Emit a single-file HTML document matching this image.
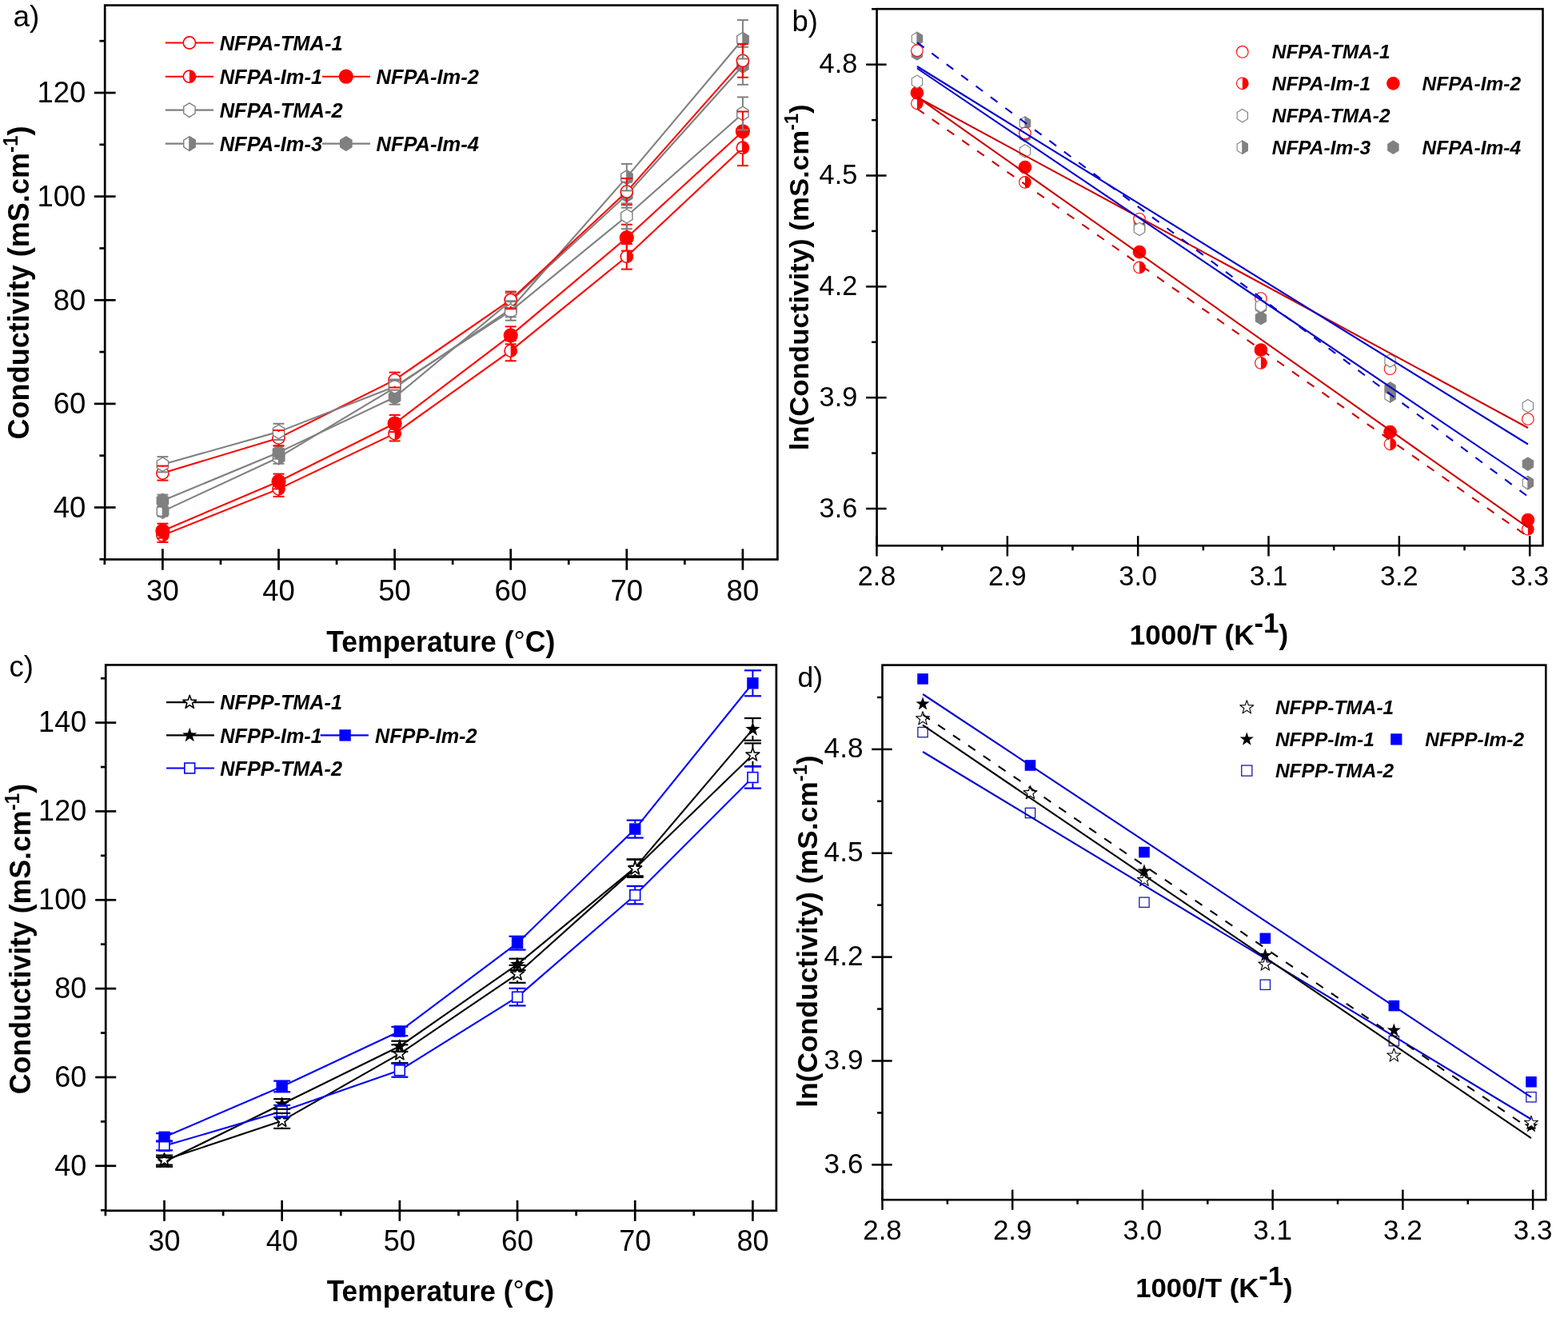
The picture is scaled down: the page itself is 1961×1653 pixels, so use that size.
<!DOCTYPE html>
<html><head><meta charset="utf-8"><title>Conductivity plots</title>
<style>html,body{margin:0;padding:0;background:#fff;overflow:hidden;}svg{display:block;}text{font-family:'Liberation Sans', Arial, Helvetica, sans-serif;fill:#000;}</style>
</head><body>
<svg width="1961" height="1653" viewBox="0 0 1961 1653">
<rect width="1961" height="1653" fill="#fff"/>
<g><polyline points="203.4,669.37 348.5,611.36 493.6,542.15 638.7,438.64 783.8,320.82 928.9,184.72" fill="none" stroke="#ff0000" stroke-width="2.1" stroke-linejoin="round"/><circle cx="203.4" cy="669.37" r="7.6" fill="#fff" stroke="#ff0000" stroke-width="1.6"/><path d="M203.4 661.77 A7.6 7.6 0 0 1 203.4 676.97 Z" fill="#ff0000"/><circle cx="348.5" cy="611.36" r="7.6" fill="#fff" stroke="#ff0000" stroke-width="1.6"/><path d="M348.5 603.76 A7.6 7.6 0 0 1 348.5 618.96 Z" fill="#ff0000"/><circle cx="493.6" cy="542.15" r="7.6" fill="#fff" stroke="#ff0000" stroke-width="1.6"/><path d="M493.6 534.55 A7.6 7.6 0 0 1 493.6 549.75 Z" fill="#ff0000"/><circle cx="638.7" cy="438.64" r="7.6" fill="#fff" stroke="#ff0000" stroke-width="1.6"/><path d="M638.7 431.04 A7.6 7.6 0 0 1 638.7 446.24 Z" fill="#ff0000"/><circle cx="783.8" cy="320.82" r="7.6" fill="#fff" stroke="#ff0000" stroke-width="1.6"/><path d="M783.8 313.22 A7.6 7.6 0 0 1 783.8 328.42 Z" fill="#ff0000"/><circle cx="928.9" cy="184.72" r="7.6" fill="#fff" stroke="#ff0000" stroke-width="1.6"/><path d="M928.9 177.12 A7.6 7.6 0 0 1 928.9 192.32 Z" fill="#ff0000"/><polyline points="203.4,663.66 348.5,601.97 493.6,529.51 638.7,419.33 783.8,297.16 928.9,164.3" fill="none" stroke="#ff0000" stroke-width="2.1" stroke-linejoin="round"/><circle cx="203.4" cy="663.66" r="8.3" fill="#ff0000" stroke="#ff0000" stroke-width="1.6"/><circle cx="348.5" cy="601.97" r="8.3" fill="#ff0000" stroke="#ff0000" stroke-width="1.6"/><circle cx="493.6" cy="529.51" r="8.3" fill="#ff0000" stroke="#ff0000" stroke-width="1.6"/><circle cx="638.7" cy="419.33" r="8.3" fill="#ff0000" stroke="#ff0000" stroke-width="1.6"/><circle cx="783.8" cy="297.16" r="8.3" fill="#ff0000" stroke="#ff0000" stroke-width="1.6"/><circle cx="928.9" cy="164.3" r="8.3" fill="#ff0000" stroke="#ff0000" stroke-width="1.6"/><polyline points="203.4,639.36 348.5,571.96 493.6,484.79 638.7,386.28 783.8,221.66 928.9,49.27" fill="none" stroke="#808080" stroke-width="2.1" stroke-linejoin="round"/><polygon points="203.4,630.61 210.55,634.99 210.55,643.74 203.4,648.11 196.25,643.74 196.25,634.99" fill="#fff" stroke="#808080" stroke-width="1.4"/><polygon points="203.4,630.61 210.55,634.99 210.55,643.74 203.4,648.11" fill="#808080" stroke="#808080" stroke-width="1.4"/><polygon points="348.5,563.21 355.65,567.58 355.65,576.33 348.5,580.71 341.35,576.33 341.35,567.58" fill="#fff" stroke="#808080" stroke-width="1.4"/><polygon points="348.5,563.21 355.65,567.58 355.65,576.33 348.5,580.71" fill="#808080" stroke="#808080" stroke-width="1.4"/><polygon points="493.6,476.04 500.75,480.41 500.75,489.16 493.6,493.54 486.45,489.16 486.45,480.41" fill="#fff" stroke="#808080" stroke-width="1.4"/><polygon points="493.6,476.04 500.75,480.41 500.75,489.16 493.6,493.54" fill="#808080" stroke="#808080" stroke-width="1.4"/><polygon points="638.7,377.53 645.85,381.9 645.85,390.65 638.7,395.03 631.55,390.65 631.55,381.9" fill="#fff" stroke="#808080" stroke-width="1.4"/><polygon points="638.7,377.53 645.85,381.9 645.85,390.65 638.7,395.03" fill="#808080" stroke="#808080" stroke-width="1.4"/><polygon points="783.8,212.91 790.95,217.29 790.95,226.04 783.8,230.41 776.65,226.04 776.65,217.29" fill="#fff" stroke="#808080" stroke-width="1.4"/><polygon points="783.8,212.91 790.95,217.29 790.95,226.04 783.8,230.41" fill="#808080" stroke="#808080" stroke-width="1.4"/><polygon points="928.9,40.52 936.05,44.89 936.05,53.64 928.9,58.02 921.75,53.64 921.75,44.89" fill="#fff" stroke="#808080" stroke-width="1.4"/><polygon points="928.9,40.52 936.05,44.89 936.05,53.64 928.9,58.02" fill="#808080" stroke="#808080" stroke-width="1.4"/><polyline points="203.4,626.07 348.5,565.67 493.6,496.71 638.7,376.56 783.8,243.7 928.9,82.32" fill="none" stroke="#808080" stroke-width="2.1" stroke-linejoin="round"/><polygon points="203.4,617.32 210.55,621.7 210.55,630.45 203.4,634.82 196.25,630.45 196.25,621.7" fill="#808080" stroke="#808080" stroke-width="1.4" stroke-linejoin="round"/><polygon points="348.5,556.92 355.65,561.3 355.65,570.05 348.5,574.42 341.35,570.05 341.35,561.3" fill="#808080" stroke="#808080" stroke-width="1.4" stroke-linejoin="round"/><polygon points="493.6,487.96 500.75,492.34 500.75,501.09 493.6,505.46 486.45,501.09 486.45,492.34" fill="#808080" stroke="#808080" stroke-width="1.4" stroke-linejoin="round"/><polygon points="638.7,367.81 645.85,372.18 645.85,380.93 638.7,385.31 631.55,380.93 631.55,372.18" fill="#808080" stroke="#808080" stroke-width="1.4" stroke-linejoin="round"/><polygon points="783.8,234.95 790.95,239.32 790.95,248.07 783.8,252.45 776.65,248.07 776.65,239.32" fill="#808080" stroke="#808080" stroke-width="1.4" stroke-linejoin="round"/><polygon points="928.9,73.57 936.05,77.94 936.05,86.69 928.9,91.07 921.75,86.69 921.75,77.94" fill="#808080" stroke="#808080" stroke-width="1.4" stroke-linejoin="round"/><polyline points="203.4,591.6 348.5,547.65 493.6,475.07 638.7,374.94 783.8,239.61 928.9,75.84" fill="none" stroke="#ff0000" stroke-width="2.1" stroke-linejoin="round"/><circle cx="203.4" cy="591.6" r="7.6" fill="#fff" stroke="#ff0000" stroke-width="1.6"/><circle cx="348.5" cy="547.65" r="7.6" fill="#fff" stroke="#ff0000" stroke-width="1.6"/><circle cx="493.6" cy="475.07" r="7.6" fill="#fff" stroke="#ff0000" stroke-width="1.6"/><circle cx="638.7" cy="374.94" r="7.6" fill="#fff" stroke="#ff0000" stroke-width="1.6"/><circle cx="783.8" cy="239.61" r="7.6" fill="#fff" stroke="#ff0000" stroke-width="1.6"/><circle cx="928.9" cy="75.84" r="7.6" fill="#fff" stroke="#ff0000" stroke-width="1.6"/><polyline points="203.4,580.71 348.5,539.88 493.6,483.49 638.7,388.87 783.8,270.27 928.9,141.94" fill="none" stroke="#808080" stroke-width="2.1" stroke-linejoin="round"/><polygon points="203.4,571.96 210.55,576.33 210.55,585.08 203.4,589.46 196.25,585.08 196.25,576.33" fill="#fff" stroke="#808080" stroke-width="1.4"/><polygon points="348.5,531.13 355.65,535.5 355.65,544.25 348.5,548.63 341.35,544.25 341.35,535.5" fill="#fff" stroke="#808080" stroke-width="1.4"/><polygon points="493.6,474.74 500.75,479.12 500.75,487.87 493.6,492.24 486.45,487.87 486.45,479.12" fill="#fff" stroke="#808080" stroke-width="1.4"/><polygon points="638.7,380.12 645.85,384.5 645.85,393.25 638.7,397.62 631.55,393.25 631.55,384.5" fill="#fff" stroke="#808080" stroke-width="1.4"/><polygon points="783.8,261.52 790.95,265.89 790.95,274.64 783.8,279.02 776.65,274.64 776.65,265.89" fill="#fff" stroke="#808080" stroke-width="1.4"/><polygon points="928.9,133.19 936.05,137.57 936.05,146.32 928.9,150.69 921.75,146.32 921.75,137.57" fill="#fff" stroke="#808080" stroke-width="1.4"/><line x1="203.4" y1="660.77" x2="203.4" y2="661.77" stroke="#ff0000" stroke-width="2"/><line x1="203.4" y1="676.97" x2="203.4" y2="677.97" stroke="#ff0000" stroke-width="2"/><line x1="196.4" y1="660.77" x2="210.4" y2="660.77" stroke="#ff0000" stroke-width="2"/><line x1="196.4" y1="677.97" x2="210.4" y2="677.97" stroke="#ff0000" stroke-width="2"/><line x1="348.5" y1="601.86" x2="348.5" y2="603.76" stroke="#ff0000" stroke-width="2"/><line x1="348.5" y1="618.96" x2="348.5" y2="620.86" stroke="#ff0000" stroke-width="2"/><line x1="341.5" y1="601.86" x2="355.5" y2="601.86" stroke="#ff0000" stroke-width="2"/><line x1="341.5" y1="620.86" x2="355.5" y2="620.86" stroke="#ff0000" stroke-width="2"/><line x1="493.6" y1="532.85" x2="493.6" y2="534.55" stroke="#ff0000" stroke-width="2"/><line x1="493.6" y1="549.75" x2="493.6" y2="551.45" stroke="#ff0000" stroke-width="2"/><line x1="486.6" y1="532.85" x2="500.6" y2="532.85" stroke="#ff0000" stroke-width="2"/><line x1="486.6" y1="551.45" x2="500.6" y2="551.45" stroke="#ff0000" stroke-width="2"/><line x1="638.7" y1="426.04" x2="638.7" y2="431.04" stroke="#ff0000" stroke-width="2"/><line x1="638.7" y1="446.24" x2="638.7" y2="451.24" stroke="#ff0000" stroke-width="2"/><line x1="631.7" y1="426.04" x2="645.7" y2="426.04" stroke="#ff0000" stroke-width="2"/><line x1="631.7" y1="451.24" x2="645.7" y2="451.24" stroke="#ff0000" stroke-width="2"/><line x1="783.8" y1="305.02" x2="783.8" y2="313.22" stroke="#ff0000" stroke-width="2"/><line x1="783.8" y1="328.42" x2="783.8" y2="336.62" stroke="#ff0000" stroke-width="2"/><line x1="776.8" y1="305.02" x2="790.8" y2="305.02" stroke="#ff0000" stroke-width="2"/><line x1="776.8" y1="336.62" x2="790.8" y2="336.62" stroke="#ff0000" stroke-width="2"/><line x1="928.9" y1="162.32" x2="928.9" y2="177.12" stroke="#ff0000" stroke-width="2"/><line x1="928.9" y1="192.32" x2="928.9" y2="207.12" stroke="#ff0000" stroke-width="2"/><line x1="921.9" y1="162.32" x2="935.9" y2="162.32" stroke="#ff0000" stroke-width="2"/><line x1="921.9" y1="207.12" x2="935.9" y2="207.12" stroke="#ff0000" stroke-width="2"/><line x1="203.4" y1="654.66" x2="203.4" y2="655.36" stroke="#ff0000" stroke-width="2"/><line x1="203.4" y1="671.96" x2="203.4" y2="672.66" stroke="#ff0000" stroke-width="2"/><line x1="196.4" y1="654.66" x2="210.4" y2="654.66" stroke="#ff0000" stroke-width="2"/><line x1="196.4" y1="672.66" x2="210.4" y2="672.66" stroke="#ff0000" stroke-width="2"/><line x1="348.5" y1="592.57" x2="348.5" y2="593.67" stroke="#ff0000" stroke-width="2"/><line x1="348.5" y1="610.27" x2="348.5" y2="611.37" stroke="#ff0000" stroke-width="2"/><line x1="341.5" y1="592.57" x2="355.5" y2="592.57" stroke="#ff0000" stroke-width="2"/><line x1="341.5" y1="611.37" x2="355.5" y2="611.37" stroke="#ff0000" stroke-width="2"/><line x1="493.6" y1="518.91" x2="493.6" y2="521.21" stroke="#ff0000" stroke-width="2"/><line x1="493.6" y1="537.81" x2="493.6" y2="540.11" stroke="#ff0000" stroke-width="2"/><line x1="486.6" y1="518.91" x2="500.6" y2="518.91" stroke="#ff0000" stroke-width="2"/><line x1="486.6" y1="540.11" x2="500.6" y2="540.11" stroke="#ff0000" stroke-width="2"/><line x1="638.7" y1="408.33" x2="638.7" y2="411.03" stroke="#ff0000" stroke-width="2"/><line x1="638.7" y1="427.63" x2="638.7" y2="430.33" stroke="#ff0000" stroke-width="2"/><line x1="631.7" y1="408.33" x2="645.7" y2="408.33" stroke="#ff0000" stroke-width="2"/><line x1="631.7" y1="430.33" x2="645.7" y2="430.33" stroke="#ff0000" stroke-width="2"/><line x1="783.8" y1="280.76" x2="783.8" y2="288.86" stroke="#ff0000" stroke-width="2"/><line x1="783.8" y1="305.46" x2="783.8" y2="313.56" stroke="#ff0000" stroke-width="2"/><line x1="776.8" y1="280.76" x2="790.8" y2="280.76" stroke="#ff0000" stroke-width="2"/><line x1="776.8" y1="313.56" x2="790.8" y2="313.56" stroke="#ff0000" stroke-width="2"/><line x1="928.9" y1="139.5" x2="928.9" y2="156" stroke="#ff0000" stroke-width="2"/><line x1="928.9" y1="172.6" x2="928.9" y2="189.1" stroke="#ff0000" stroke-width="2"/><line x1="921.9" y1="139.5" x2="935.9" y2="139.5" stroke="#ff0000" stroke-width="2"/><line x1="921.9" y1="189.1" x2="935.9" y2="189.1" stroke="#ff0000" stroke-width="2"/><line x1="196.4" y1="633.16" x2="210.4" y2="633.16" stroke="#808080" stroke-width="2"/><line x1="196.4" y1="645.56" x2="210.4" y2="645.56" stroke="#808080" stroke-width="2"/><line x1="341.5" y1="564.16" x2="355.5" y2="564.16" stroke="#808080" stroke-width="2"/><line x1="341.5" y1="579.76" x2="355.5" y2="579.76" stroke="#808080" stroke-width="2"/><line x1="493.6" y1="475.79" x2="493.6" y2="476.04" stroke="#808080" stroke-width="2"/><line x1="493.6" y1="493.54" x2="493.6" y2="493.79" stroke="#808080" stroke-width="2"/><line x1="486.6" y1="475.79" x2="500.6" y2="475.79" stroke="#808080" stroke-width="2"/><line x1="486.6" y1="493.79" x2="500.6" y2="493.79" stroke="#808080" stroke-width="2"/><line x1="638.7" y1="376.28" x2="638.7" y2="377.53" stroke="#808080" stroke-width="2"/><line x1="638.7" y1="395.03" x2="638.7" y2="396.28" stroke="#808080" stroke-width="2"/><line x1="631.7" y1="376.28" x2="645.7" y2="376.28" stroke="#808080" stroke-width="2"/><line x1="631.7" y1="396.28" x2="645.7" y2="396.28" stroke="#808080" stroke-width="2"/><line x1="783.8" y1="204.91" x2="783.8" y2="212.91" stroke="#808080" stroke-width="2"/><line x1="783.8" y1="230.41" x2="783.8" y2="238.41" stroke="#808080" stroke-width="2"/><line x1="776.8" y1="204.91" x2="790.8" y2="204.91" stroke="#808080" stroke-width="2"/><line x1="776.8" y1="238.41" x2="790.8" y2="238.41" stroke="#808080" stroke-width="2"/><line x1="928.9" y1="25.07" x2="928.9" y2="40.52" stroke="#808080" stroke-width="2"/><line x1="928.9" y1="58.02" x2="928.9" y2="73.47" stroke="#808080" stroke-width="2"/><line x1="921.9" y1="25.07" x2="935.9" y2="25.07" stroke="#808080" stroke-width="2"/><line x1="921.9" y1="73.47" x2="935.9" y2="73.47" stroke="#808080" stroke-width="2"/><line x1="196.4" y1="618.57" x2="210.4" y2="618.57" stroke="#808080" stroke-width="2"/><line x1="196.4" y1="633.57" x2="210.4" y2="633.57" stroke="#808080" stroke-width="2"/><line x1="341.5" y1="557.67" x2="355.5" y2="557.67" stroke="#808080" stroke-width="2"/><line x1="341.5" y1="573.67" x2="355.5" y2="573.67" stroke="#808080" stroke-width="2"/><line x1="493.6" y1="487.71" x2="493.6" y2="487.96" stroke="#808080" stroke-width="2"/><line x1="493.6" y1="505.46" x2="493.6" y2="505.71" stroke="#808080" stroke-width="2"/><line x1="486.6" y1="487.71" x2="500.6" y2="487.71" stroke="#808080" stroke-width="2"/><line x1="486.6" y1="505.71" x2="500.6" y2="505.71" stroke="#808080" stroke-width="2"/><line x1="638.7" y1="366.56" x2="638.7" y2="367.81" stroke="#808080" stroke-width="2"/><line x1="638.7" y1="385.31" x2="638.7" y2="386.56" stroke="#808080" stroke-width="2"/><line x1="631.7" y1="366.56" x2="645.7" y2="366.56" stroke="#808080" stroke-width="2"/><line x1="631.7" y1="386.56" x2="645.7" y2="386.56" stroke="#808080" stroke-width="2"/><line x1="783.8" y1="227.7" x2="783.8" y2="234.95" stroke="#808080" stroke-width="2"/><line x1="783.8" y1="252.45" x2="783.8" y2="259.7" stroke="#808080" stroke-width="2"/><line x1="776.8" y1="227.7" x2="790.8" y2="227.7" stroke="#808080" stroke-width="2"/><line x1="776.8" y1="259.7" x2="790.8" y2="259.7" stroke="#808080" stroke-width="2"/><line x1="928.9" y1="58.82" x2="928.9" y2="73.57" stroke="#808080" stroke-width="2"/><line x1="928.9" y1="91.07" x2="928.9" y2="105.82" stroke="#808080" stroke-width="2"/><line x1="921.9" y1="58.82" x2="935.9" y2="58.82" stroke="#808080" stroke-width="2"/><line x1="921.9" y1="105.82" x2="935.9" y2="105.82" stroke="#808080" stroke-width="2"/><line x1="203.4" y1="582.6" x2="203.4" y2="584" stroke="#ff0000" stroke-width="2"/><line x1="203.4" y1="599.2" x2="203.4" y2="600.6" stroke="#ff0000" stroke-width="2"/><line x1="196.4" y1="582.6" x2="210.4" y2="582.6" stroke="#ff0000" stroke-width="2"/><line x1="196.4" y1="600.6" x2="210.4" y2="600.6" stroke="#ff0000" stroke-width="2"/><line x1="348.5" y1="538.05" x2="348.5" y2="540.05" stroke="#ff0000" stroke-width="2"/><line x1="348.5" y1="555.25" x2="348.5" y2="557.25" stroke="#ff0000" stroke-width="2"/><line x1="341.5" y1="538.05" x2="355.5" y2="538.05" stroke="#ff0000" stroke-width="2"/><line x1="341.5" y1="557.25" x2="355.5" y2="557.25" stroke="#ff0000" stroke-width="2"/><line x1="493.6" y1="465.62" x2="493.6" y2="467.47" stroke="#ff0000" stroke-width="2"/><line x1="493.6" y1="482.67" x2="493.6" y2="484.52" stroke="#ff0000" stroke-width="2"/><line x1="486.6" y1="465.62" x2="500.6" y2="465.62" stroke="#ff0000" stroke-width="2"/><line x1="486.6" y1="484.52" x2="500.6" y2="484.52" stroke="#ff0000" stroke-width="2"/><line x1="638.7" y1="364.59" x2="638.7" y2="367.34" stroke="#ff0000" stroke-width="2"/><line x1="638.7" y1="382.54" x2="638.7" y2="385.29" stroke="#ff0000" stroke-width="2"/><line x1="631.7" y1="364.59" x2="645.7" y2="364.59" stroke="#ff0000" stroke-width="2"/><line x1="631.7" y1="385.29" x2="645.7" y2="385.29" stroke="#ff0000" stroke-width="2"/><line x1="783.8" y1="223.11" x2="783.8" y2="232.01" stroke="#ff0000" stroke-width="2"/><line x1="783.8" y1="247.21" x2="783.8" y2="256.11" stroke="#ff0000" stroke-width="2"/><line x1="776.8" y1="223.11" x2="790.8" y2="223.11" stroke="#ff0000" stroke-width="2"/><line x1="776.8" y1="256.11" x2="790.8" y2="256.11" stroke="#ff0000" stroke-width="2"/><line x1="928.9" y1="54.94" x2="928.9" y2="68.24" stroke="#ff0000" stroke-width="2"/><line x1="928.9" y1="83.44" x2="928.9" y2="96.74" stroke="#ff0000" stroke-width="2"/><line x1="921.9" y1="54.94" x2="935.9" y2="54.94" stroke="#ff0000" stroke-width="2"/><line x1="921.9" y1="96.74" x2="935.9" y2="96.74" stroke="#ff0000" stroke-width="2"/><line x1="203.4" y1="571.11" x2="203.4" y2="571.96" stroke="#808080" stroke-width="2"/><line x1="203.4" y1="589.46" x2="203.4" y2="590.31" stroke="#808080" stroke-width="2"/><line x1="196.4" y1="571.11" x2="210.4" y2="571.11" stroke="#808080" stroke-width="2"/><line x1="196.4" y1="590.31" x2="210.4" y2="590.31" stroke="#808080" stroke-width="2"/><line x1="348.5" y1="529.78" x2="348.5" y2="531.13" stroke="#808080" stroke-width="2"/><line x1="348.5" y1="548.63" x2="348.5" y2="549.98" stroke="#808080" stroke-width="2"/><line x1="341.5" y1="529.78" x2="355.5" y2="529.78" stroke="#808080" stroke-width="2"/><line x1="341.5" y1="549.98" x2="355.5" y2="549.98" stroke="#808080" stroke-width="2"/><line x1="493.6" y1="474.49" x2="493.6" y2="474.74" stroke="#808080" stroke-width="2"/><line x1="493.6" y1="492.24" x2="493.6" y2="492.49" stroke="#808080" stroke-width="2"/><line x1="486.6" y1="474.49" x2="500.6" y2="474.49" stroke="#808080" stroke-width="2"/><line x1="486.6" y1="492.49" x2="500.6" y2="492.49" stroke="#808080" stroke-width="2"/><line x1="638.7" y1="377.07" x2="638.7" y2="380.12" stroke="#808080" stroke-width="2"/><line x1="638.7" y1="397.62" x2="638.7" y2="400.67" stroke="#808080" stroke-width="2"/><line x1="631.7" y1="377.07" x2="645.7" y2="377.07" stroke="#808080" stroke-width="2"/><line x1="631.7" y1="400.67" x2="645.7" y2="400.67" stroke="#808080" stroke-width="2"/><line x1="783.8" y1="254.37" x2="783.8" y2="261.52" stroke="#808080" stroke-width="2"/><line x1="783.8" y1="279.02" x2="783.8" y2="286.17" stroke="#808080" stroke-width="2"/><line x1="776.8" y1="254.37" x2="790.8" y2="254.37" stroke="#808080" stroke-width="2"/><line x1="776.8" y1="286.17" x2="790.8" y2="286.17" stroke="#808080" stroke-width="2"/><line x1="928.9" y1="121.44" x2="928.9" y2="133.19" stroke="#808080" stroke-width="2"/><line x1="928.9" y1="150.69" x2="928.9" y2="162.44" stroke="#808080" stroke-width="2"/><line x1="921.9" y1="121.44" x2="935.9" y2="121.44" stroke="#808080" stroke-width="2"/><line x1="921.9" y1="162.44" x2="935.9" y2="162.44" stroke="#808080" stroke-width="2"/></g><rect x="131.2" y="6.6" width="841.2" height="692.9" fill="none" stroke="#000" stroke-width="2.7"/><line x1="117.8" y1="634.5" x2="144.6" y2="634.5" stroke="#000" stroke-width="2.7"/><line x1="117.8" y1="504.88" x2="144.6" y2="504.88" stroke="#000" stroke-width="2.7"/><line x1="117.8" y1="375.26" x2="144.6" y2="375.26" stroke="#000" stroke-width="2.7"/><line x1="117.8" y1="245.64" x2="144.6" y2="245.64" stroke="#000" stroke-width="2.7"/><line x1="117.8" y1="116.02" x2="144.6" y2="116.02" stroke="#000" stroke-width="2.7"/><line x1="124.4" y1="699.31" x2="131.2" y2="699.31" stroke="#000" stroke-width="2.7"/><line x1="124.4" y1="569.69" x2="131.2" y2="569.69" stroke="#000" stroke-width="2.7"/><line x1="124.4" y1="440.07" x2="131.2" y2="440.07" stroke="#000" stroke-width="2.7"/><line x1="124.4" y1="310.45" x2="131.2" y2="310.45" stroke="#000" stroke-width="2.7"/><line x1="124.4" y1="180.83" x2="131.2" y2="180.83" stroke="#000" stroke-width="2.7"/><line x1="124.4" y1="51.21" x2="131.2" y2="51.21" stroke="#000" stroke-width="2.7"/><line x1="203.4" y1="686.3" x2="203.4" y2="712.7" stroke="#000" stroke-width="2.7"/><line x1="348.5" y1="686.3" x2="348.5" y2="712.7" stroke="#000" stroke-width="2.7"/><line x1="493.6" y1="686.3" x2="493.6" y2="712.7" stroke="#000" stroke-width="2.7"/><line x1="638.7" y1="686.3" x2="638.7" y2="712.7" stroke="#000" stroke-width="2.7"/><line x1="783.8" y1="686.3" x2="783.8" y2="712.7" stroke="#000" stroke-width="2.7"/><line x1="928.9" y1="686.3" x2="928.9" y2="712.7" stroke="#000" stroke-width="2.7"/><line x1="130.85" y1="699.5" x2="130.85" y2="706" stroke="#000" stroke-width="2.7"/><line x1="275.95" y1="699.5" x2="275.95" y2="706" stroke="#000" stroke-width="2.7"/><line x1="421.05" y1="699.5" x2="421.05" y2="706" stroke="#000" stroke-width="2.7"/><line x1="566.15" y1="699.5" x2="566.15" y2="706" stroke="#000" stroke-width="2.7"/><line x1="711.25" y1="699.5" x2="711.25" y2="706" stroke="#000" stroke-width="2.7"/><line x1="856.35" y1="699.5" x2="856.35" y2="706" stroke="#000" stroke-width="2.7"/><text x="107.3" y="646.8" font-size="36.5" text-anchor="end">40</text><text x="107.3" y="517.18" font-size="36.5" text-anchor="end">60</text><text x="107.3" y="387.56" font-size="36.5" text-anchor="end">80</text><text x="107.3" y="257.94" font-size="36.5" text-anchor="end">100</text><text x="107.3" y="128.32" font-size="36.5" text-anchor="end">120</text><text x="203.4" y="751.2" font-size="36.5" text-anchor="middle">30</text><text x="348.5" y="751.2" font-size="36.5" text-anchor="middle">40</text><text x="493.6" y="751.2" font-size="36.5" text-anchor="middle">50</text><text x="638.7" y="751.2" font-size="36.5" text-anchor="middle">60</text><text x="783.8" y="751.2" font-size="36.5" text-anchor="middle">70</text><text x="928.9" y="751.2" font-size="36.5" text-anchor="middle">80</text><text transform="translate(35.6,353.4) rotate(-90) scale(0.974,1)" font-size="37" font-weight="bold" text-anchor="middle">Conductivity (mS.cm<tspan font-size="25" dy="-14">-1</tspan><tspan dy="14">)</tspan></text><text transform="translate(551.25,815.2) scale(0.961,1)" font-size="37" font-weight="bold" text-anchor="middle">Temperature (<tspan font-weight="normal">°</tspan>C)</text><text x="16.5" y="33.2" font-size="37">a)</text><line x1="206.7" y1="53.5" x2="267.1" y2="53.5" stroke="#ff0000" stroke-width="2.1"/><circle cx="236.9" cy="53.5" r="7.6" fill="#fff" stroke="#ff0000" stroke-width="1.6"/><text transform="translate(274.7,62.8) scale(0.9890,1)" font-size="25.8" font-weight="bold" font-style="italic">NFPA-TMA-1</text><line x1="206.7" y1="95.7" x2="267.1" y2="95.7" stroke="#ff0000" stroke-width="2.1"/><circle cx="236.9" cy="95.7" r="7.6" fill="#fff" stroke="#ff0000" stroke-width="1.6"/><path d="M236.9 88.1 A7.6 7.6 0 0 1 236.9 103.3 Z" fill="#ff0000"/><text transform="translate(274.7,105) scale(0.9890,1)" font-size="25.8" font-weight="bold" font-style="italic">NFPA-Im-1</text><line x1="206.7" y1="137.6" x2="267.1" y2="137.6" stroke="#808080" stroke-width="2.1"/><polygon points="236.9,128.85 244.05,133.22 244.05,141.97 236.9,146.35 229.75,141.97 229.75,133.22" fill="#fff" stroke="#808080" stroke-width="1.4"/><text transform="translate(274.7,146.9) scale(0.9890,1)" font-size="25.8" font-weight="bold" font-style="italic">NFPA-TMA-2</text><line x1="206.7" y1="179.6" x2="267.1" y2="179.6" stroke="#808080" stroke-width="2.1"/><polygon points="236.9,170.85 244.05,175.22 244.05,183.97 236.9,188.35 229.75,183.97 229.75,175.22" fill="#fff" stroke="#808080" stroke-width="1.4"/><polygon points="236.9,170.85 244.05,175.22 244.05,183.97 236.9,188.35" fill="#808080" stroke="#808080" stroke-width="1.4"/><text transform="translate(274.7,188.9) scale(0.9890,1)" font-size="25.8" font-weight="bold" font-style="italic">NFPA-Im-3</text><line x1="403" y1="95.7" x2="463" y2="95.7" stroke="#ff0000" stroke-width="2.1"/><circle cx="432.8" cy="95.7" r="8.3" fill="#ff0000" stroke="#ff0000" stroke-width="1.6"/><text transform="translate(470.5,105) scale(0.9890,1)" font-size="25.8" font-weight="bold" font-style="italic">NFPA-Im-2</text><line x1="403" y1="179.6" x2="463" y2="179.6" stroke="#808080" stroke-width="2.1"/><polygon points="432.8,170.85 439.95,175.22 439.95,183.97 432.8,188.35 425.65,183.97 425.65,175.22" fill="#808080" stroke="#808080" stroke-width="1.4" stroke-linejoin="round"/><text transform="translate(470.5,188.9) scale(0.9890,1)" font-size="25.8" font-weight="bold" font-style="italic">NFPA-Im-4</text>
<circle cx="1910.87" cy="661.71" r="7.3" fill="#fff" stroke="#ff0000" stroke-width="1.1"/><path d="M1910.87 654.41 A7.3 7.3 0 0 1 1910.87 669.01 Z" fill="#ff0000"/><circle cx="1738.56" cy="555.31" r="7.3" fill="#fff" stroke="#ff0000" stroke-width="1.1"/><path d="M1738.56 548.01 A7.3 7.3 0 0 1 1738.56 562.61 Z" fill="#ff0000"/><circle cx="1576.92" cy="453.86" r="7.3" fill="#fff" stroke="#ff0000" stroke-width="1.1"/><path d="M1576.92 446.56 A7.3 7.3 0 0 1 1576.92 461.16 Z" fill="#ff0000"/><circle cx="1424.99" cy="334.46" r="7.3" fill="#fff" stroke="#ff0000" stroke-width="1.1"/><path d="M1424.99 327.16 A7.3 7.3 0 0 1 1424.99 341.76 Z" fill="#ff0000"/><circle cx="1281.91" cy="227.91" r="7.3" fill="#fff" stroke="#ff0000" stroke-width="1.1"/><path d="M1281.91 220.61 A7.3 7.3 0 0 1 1281.91 235.21 Z" fill="#ff0000"/><circle cx="1146.93" cy="129.28" r="7.3" fill="#fff" stroke="#ff0000" stroke-width="1.1"/><path d="M1146.93 121.98 A7.3 7.3 0 0 1 1146.93 136.58 Z" fill="#ff0000"/><circle cx="1910.87" cy="650.1" r="7.8" fill="#ff0000" stroke="#ff0000" stroke-width="1.1"/><circle cx="1738.56" cy="540.16" r="7.8" fill="#ff0000" stroke="#ff0000" stroke-width="1.1"/><circle cx="1576.92" cy="437.52" r="7.8" fill="#ff0000" stroke="#ff0000" stroke-width="1.1"/><circle cx="1424.99" cy="315.22" r="7.8" fill="#ff0000" stroke="#ff0000" stroke-width="1.1"/><circle cx="1281.91" cy="209.19" r="7.8" fill="#ff0000" stroke="#ff0000" stroke-width="1.1"/><circle cx="1146.93" cy="116.15" r="7.8" fill="#ff0000" stroke="#ff0000" stroke-width="1.1"/><polygon points="1910.87,595.48 1917.53,599.55 1917.53,607.7 1910.87,611.78 1904.21,607.7 1904.21,599.55" fill="#fff" stroke="#808080" stroke-width="1.1"/><polygon points="1910.87,595.48 1917.53,599.55 1917.53,607.7 1910.87,611.78" fill="#808080" stroke="#808080" stroke-width="1.1"/><polygon points="1738.56,486.71 1745.22,490.79 1745.22,498.94 1738.56,503.01 1731.91,498.94 1731.91,490.79" fill="#fff" stroke="#808080" stroke-width="1.1"/><polygon points="1738.56,486.71 1745.22,490.79 1745.22,498.94 1738.56,503.01" fill="#808080" stroke="#808080" stroke-width="1.1"/><polygon points="1576.92,375.78 1583.58,379.86 1583.58,388.01 1576.92,392.08 1570.27,388.01 1570.27,379.86" fill="#fff" stroke="#808080" stroke-width="1.1"/><polygon points="1576.92,375.78 1583.58,379.86 1583.58,388.01 1576.92,392.08" fill="#808080" stroke="#808080" stroke-width="1.1"/><polygon points="1424.99,275.91 1431.65,279.98 1431.65,288.13 1424.99,292.21 1418.33,288.13 1418.33,279.98" fill="#fff" stroke="#808080" stroke-width="1.1"/><polygon points="1424.99,275.91 1431.65,279.98 1431.65,288.13 1424.99,292.21" fill="#808080" stroke="#808080" stroke-width="1.1"/><polygon points="1281.91,145.89 1288.57,149.97 1288.57,158.12 1281.91,162.19 1275.25,158.12 1275.25,149.97" fill="#fff" stroke="#808080" stroke-width="1.1"/><polygon points="1281.91,145.89 1288.57,149.97 1288.57,158.12 1281.91,162.19" fill="#808080" stroke="#808080" stroke-width="1.1"/><polygon points="1146.93,40.23 1153.59,44.31 1153.59,52.46 1146.93,56.53 1140.27,52.46 1140.27,44.31" fill="#fff" stroke="#808080" stroke-width="1.1"/><polygon points="1146.93,40.23 1153.59,44.31 1153.59,52.46 1146.93,56.53" fill="#808080" stroke="#808080" stroke-width="1.1"/><polygon points="1910.87,571.92 1917.53,576 1917.53,584.15 1910.87,588.22 1904.21,584.15 1904.21,576" fill="#808080" stroke="#808080" stroke-width="1.1" stroke-linejoin="round"/><polygon points="1738.56,477.76 1745.22,481.83 1745.22,489.98 1738.56,494.06 1731.91,489.98 1731.91,481.83" fill="#808080" stroke="#808080" stroke-width="1.1" stroke-linejoin="round"/><polygon points="1576.92,389.47 1583.58,393.55 1583.58,401.7 1576.92,405.77 1570.27,401.7 1570.27,393.55" fill="#808080" stroke="#808080" stroke-width="1.1" stroke-linejoin="round"/><polygon points="1424.99,267.13 1431.65,271.2 1431.65,279.35 1424.99,283.43 1418.33,279.35 1418.33,271.2" fill="#808080" stroke="#808080" stroke-width="1.1" stroke-linejoin="round"/><polygon points="1281.91,161.32 1288.57,165.4 1288.57,173.55 1281.91,177.62 1275.25,173.55 1275.25,165.4" fill="#808080" stroke="#808080" stroke-width="1.1" stroke-linejoin="round"/><polygon points="1146.93,58.71 1153.59,62.78 1153.59,70.93 1146.93,75.01 1140.27,70.93 1140.27,62.78" fill="#808080" stroke="#808080" stroke-width="1.1" stroke-linejoin="round"/><circle cx="1910.87" cy="524" r="7.3" fill="#fff" stroke="#ff0000" stroke-width="1.1"/><circle cx="1738.56" cy="461.17" r="7.3" fill="#fff" stroke="#ff0000" stroke-width="1.1"/><circle cx="1576.92" cy="373.06" r="7.3" fill="#fff" stroke="#ff0000" stroke-width="1.1"/><circle cx="1424.99" cy="273.83" r="7.3" fill="#fff" stroke="#ff0000" stroke-width="1.1"/><circle cx="1281.91" cy="166.57" r="7.3" fill="#fff" stroke="#ff0000" stroke-width="1.1"/><circle cx="1146.93" cy="63.18" r="7.3" fill="#fff" stroke="#ff0000" stroke-width="1.1"/><polygon points="1910.87,499.47 1917.53,503.54 1917.53,511.69 1910.87,515.77 1904.21,511.69 1904.21,503.54" fill="#fff" stroke="#808080" stroke-width="1.1"/><polygon points="1738.56,442.73 1745.22,446.81 1745.22,454.96 1738.56,459.03 1731.91,454.96 1731.91,446.81" fill="#fff" stroke="#808080" stroke-width="1.1"/><polygon points="1576.92,374.32 1583.58,378.39 1583.58,386.54 1576.92,390.62 1570.27,386.54 1570.27,378.39" fill="#fff" stroke="#808080" stroke-width="1.1"/><polygon points="1424.99,278.28 1431.65,282.35 1431.65,290.5 1424.99,294.58 1418.33,290.5 1418.33,282.35" fill="#fff" stroke="#808080" stroke-width="1.1"/><polygon points="1281.91,180.63 1288.57,184.71 1288.57,192.86 1281.91,196.93 1275.25,192.86 1275.25,184.71" fill="#fff" stroke="#808080" stroke-width="1.1"/><polygon points="1146.93,94.03 1153.59,98.1 1153.59,106.25 1146.93,110.33 1140.27,106.25 1140.27,98.1" fill="#fff" stroke="#808080" stroke-width="1.1"/><line x1="1147" y1="121.5" x2="1911" y2="535" stroke="#cc0000" stroke-width="2.1"/><line x1="1147" y1="121.2" x2="1911" y2="659.7" stroke="#cc0000" stroke-width="2.1"/><line x1="1147" y1="136" x2="1911" y2="671" stroke="#cc0000" stroke-width="2.1" stroke-dasharray="10.7 12.2"/><line x1="1147" y1="83" x2="1911" y2="555.5" stroke="#0000cc" stroke-width="2.1"/><line x1="1147" y1="85.5" x2="1911" y2="600" stroke="#0000cc" stroke-width="2.1"/><line x1="1147" y1="53" x2="1911" y2="620.9" stroke="#0000cc" stroke-width="2.1" stroke-dasharray="10.7 12.2"/><rect x="1096.6" y="11.2" width="832.9" height="671.1" fill="none" stroke="#000" stroke-width="2.6"/><line x1="1083.2" y1="636" x2="1108.6" y2="636" stroke="#000" stroke-width="2.5"/><line x1="1083.2" y1="497.17" x2="1108.6" y2="497.17" stroke="#000" stroke-width="2.5"/><line x1="1083.2" y1="358.35" x2="1108.6" y2="358.35" stroke="#000" stroke-width="2.5"/><line x1="1083.2" y1="219.52" x2="1108.6" y2="219.52" stroke="#000" stroke-width="2.5"/><line x1="1083.2" y1="80.7" x2="1108.6" y2="80.7" stroke="#000" stroke-width="2.5"/><line x1="1090.1" y1="566.59" x2="1096.6" y2="566.59" stroke="#000" stroke-width="2.5"/><line x1="1090.1" y1="427.76" x2="1096.6" y2="427.76" stroke="#000" stroke-width="2.5"/><line x1="1090.1" y1="288.94" x2="1096.6" y2="288.94" stroke="#000" stroke-width="2.5"/><line x1="1090.1" y1="150.11" x2="1096.6" y2="150.11" stroke="#000" stroke-width="2.5"/><line x1="1090.1" y1="11.29" x2="1096.6" y2="11.29" stroke="#000" stroke-width="2.5"/><line x1="1096.5" y1="670.1" x2="1096.5" y2="695.5" stroke="#000" stroke-width="2.5"/><line x1="1259.84" y1="670.1" x2="1259.84" y2="695.5" stroke="#000" stroke-width="2.5"/><line x1="1423.18" y1="670.1" x2="1423.18" y2="695.5" stroke="#000" stroke-width="2.5"/><line x1="1586.52" y1="670.1" x2="1586.52" y2="695.5" stroke="#000" stroke-width="2.5"/><line x1="1749.86" y1="670.1" x2="1749.86" y2="695.5" stroke="#000" stroke-width="2.5"/><line x1="1913.2" y1="670.1" x2="1913.2" y2="695.5" stroke="#000" stroke-width="2.5"/><line x1="1178.17" y1="682.3" x2="1178.17" y2="688.3" stroke="#000" stroke-width="2.5"/><line x1="1341.51" y1="682.3" x2="1341.51" y2="688.3" stroke="#000" stroke-width="2.5"/><line x1="1504.85" y1="682.3" x2="1504.85" y2="688.3" stroke="#000" stroke-width="2.5"/><line x1="1668.19" y1="682.3" x2="1668.19" y2="688.3" stroke="#000" stroke-width="2.5"/><line x1="1831.53" y1="682.3" x2="1831.53" y2="688.3" stroke="#000" stroke-width="2.5"/><text x="1072.3" y="646.5" font-size="34.3" text-anchor="end">3.6</text><text x="1072.3" y="507.67" font-size="34.3" text-anchor="end">3.9</text><text x="1072.3" y="368.85" font-size="34.3" text-anchor="end">4.2</text><text x="1072.3" y="230.02" font-size="34.3" text-anchor="end">4.5</text><text x="1072.3" y="91.2" font-size="34.3" text-anchor="end">4.8</text><text x="1096.5" y="732.4" font-size="34.3" text-anchor="middle">2.8</text><text x="1259.84" y="732.4" font-size="34.3" text-anchor="middle">2.9</text><text x="1423.18" y="732.4" font-size="34.3" text-anchor="middle">3.0</text><text x="1586.52" y="732.4" font-size="34.3" text-anchor="middle">3.1</text><text x="1749.86" y="732.4" font-size="34.3" text-anchor="middle">3.2</text><text x="1913.2" y="732.4" font-size="34.3" text-anchor="middle">3.3</text><text transform="translate(1010.5,346.85) rotate(-90) scale(1.0246,1)" font-size="34" font-weight="bold" text-anchor="middle">ln(Conductivity) (mS.cm<tspan font-size="23" dy="-13">-1</tspan><tspan dy="13">)</tspan></text><text x="1512" y="805.7" font-size="35" font-weight="bold" text-anchor="middle">1000/T (K<tspan dy="-15">-1</tspan><tspan dy="15">)</tspan></text><text x="990.5" y="38.6" font-size="36.5">b)</text><circle cx="1553.8" cy="64.9" r="7.3" fill="#fff" stroke="#ff0000" stroke-width="1.1"/><text x="1590.7" y="73.4" font-size="24.5" font-weight="bold" font-style="italic">NFPA-TMA-1</text><circle cx="1553.8" cy="104.3" r="7.3" fill="#fff" stroke="#ff0000" stroke-width="1.1"/><path d="M1553.8 97 A7.3 7.3 0 0 1 1553.8 111.6 Z" fill="#ff0000"/><text x="1590.7" y="112.8" font-size="24.5" font-weight="bold" font-style="italic">NFPA-Im-1</text><polygon points="1553.8,136.45 1560.46,140.53 1560.46,148.67 1553.8,152.75 1547.14,148.67 1547.14,140.53" fill="#fff" stroke="#808080" stroke-width="1.1"/><text x="1590.7" y="153.1" font-size="24.5" font-weight="bold" font-style="italic">NFPA-TMA-2</text><polygon points="1553.8,176.05 1560.46,180.12 1560.46,188.27 1553.8,192.35 1547.14,188.27 1547.14,180.12" fill="#fff" stroke="#808080" stroke-width="1.1"/><polygon points="1553.8,176.05 1560.46,180.12 1560.46,188.27 1553.8,192.35" fill="#808080" stroke="#808080" stroke-width="1.1"/><text x="1590.7" y="192.7" font-size="24.5" font-weight="bold" font-style="italic">NFPA-Im-3</text><circle cx="1742.4" cy="104.3" r="7.8" fill="#ff0000" stroke="#ff0000" stroke-width="1.1"/><text x="1778.6" y="112.8" font-size="24.5" font-weight="bold" font-style="italic">NFPA-Im-2</text><polygon points="1742.4,176.05 1749.06,180.12 1749.06,188.27 1742.4,192.35 1735.74,188.27 1735.74,180.12" fill="#808080" stroke="#808080" stroke-width="1.1" stroke-linejoin="round"/><text x="1778.6" y="192.7" font-size="24.5" font-weight="bold" font-style="italic">NFPA-Im-4</text>
<polyline points="205.5,1452.81 352.68,1380.49 499.86,1308.28 647.04,1205.92 794.22,1084.82 941.4,911.91" fill="none" stroke="#000000" stroke-width="2.1" stroke-linejoin="round"/><polygon points="205.5,1443.21 207.76,1449.71 214.63,1449.85 209.15,1454 211.14,1460.58 205.5,1456.65 199.86,1460.58 201.85,1454 196.37,1449.85 203.24,1449.71" fill="#000000"/><polygon points="352.68,1370.89 354.94,1377.38 361.81,1377.52 356.33,1381.68 358.32,1388.26 352.68,1384.33 347.04,1388.26 349.03,1381.68 343.55,1377.52 350.42,1377.38" fill="#000000"/><polygon points="499.86,1298.68 502.12,1305.17 508.99,1305.31 503.51,1309.46 505.5,1316.04 499.86,1312.12 494.22,1316.04 496.21,1309.46 490.73,1305.31 497.6,1305.17" fill="#000000"/><polygon points="647.04,1196.32 649.3,1202.81 656.17,1202.95 650.69,1207.1 652.68,1213.68 647.04,1209.76 641.4,1213.68 643.39,1207.1 637.91,1202.95 644.78,1202.81" fill="#000000"/><polygon points="794.22,1075.22 796.48,1081.72 803.35,1081.86 797.87,1086.01 799.86,1092.59 794.22,1088.66 788.58,1092.59 790.57,1086.01 785.09,1081.86 791.96,1081.72" fill="#000000"/><polygon points="941.4,902.31 943.66,908.81 950.53,908.95 945.05,913.1 947.04,919.68 941.4,915.75 935.76,919.68 937.75,913.1 932.27,908.95 939.14,908.81" fill="#000000"/><polyline points="205.5,1450.6 352.68,1401.44 499.86,1317.7 647.04,1217.83 794.22,1085.93 941.4,943.78" fill="none" stroke="#000000" stroke-width="2.1" stroke-linejoin="round"/><polygon points="205.5,1441.8 207.57,1447.75 213.87,1447.88 208.85,1451.68 210.67,1457.71 205.5,1454.12 200.33,1457.71 202.15,1451.68 197.13,1447.88 203.43,1447.75" fill="#fff" stroke="#000000" stroke-width="1.6" stroke-linejoin="round"/><polygon points="352.68,1392.64 354.75,1398.59 361.05,1398.72 356.03,1402.53 357.85,1408.56 352.68,1404.96 347.51,1408.56 349.33,1402.53 344.31,1398.72 350.61,1398.59" fill="#fff" stroke="#000000" stroke-width="1.6" stroke-linejoin="round"/><polygon points="499.86,1308.9 501.93,1314.85 508.23,1314.98 503.21,1318.79 505.03,1324.82 499.86,1321.22 494.69,1324.82 496.51,1318.79 491.49,1314.98 497.79,1314.85" fill="#fff" stroke="#000000" stroke-width="1.6" stroke-linejoin="round"/><polygon points="647.04,1209.03 649.11,1214.98 655.41,1215.11 650.39,1218.92 652.21,1224.95 647.04,1221.35 641.87,1224.95 643.69,1218.92 638.67,1215.11 644.97,1214.98" fill="#fff" stroke="#000000" stroke-width="1.6" stroke-linejoin="round"/><polygon points="794.22,1077.13 796.29,1083.08 802.59,1083.21 797.57,1087.02 799.39,1093.05 794.22,1089.45 789.05,1093.05 790.87,1087.02 785.85,1083.21 792.15,1083.08" fill="#fff" stroke="#000000" stroke-width="1.6" stroke-linejoin="round"/><polygon points="941.4,934.98 943.47,940.93 949.77,941.06 944.75,944.87 946.57,950.9 941.4,947.3 936.23,950.9 938.05,944.87 933.03,941.06 939.33,940.93" fill="#fff" stroke="#000000" stroke-width="1.6" stroke-linejoin="round"/><polyline points="205.5,1421.78 352.68,1358.43 499.86,1289.49 647.04,1179.2 794.22,1036.61 941.4,854.28" fill="none" stroke="#0000ff" stroke-width="2.1" stroke-linejoin="round"/><rect x="198.3" y="1414.58" width="14.4" height="14.4" fill="#0000ff"/><rect x="345.48" y="1351.23" width="14.4" height="14.4" fill="#0000ff"/><rect x="492.66" y="1282.29" width="14.4" height="14.4" fill="#0000ff"/><rect x="639.84" y="1172" width="14.4" height="14.4" fill="#0000ff"/><rect x="787.02" y="1029.41" width="14.4" height="14.4" fill="#0000ff"/><rect x="934.2" y="847.08" width="14.4" height="14.4" fill="#0000ff"/><polyline points="205.5,1432.86 352.68,1389.47 499.86,1338.31 647.04,1246.65 794.22,1119.18 941.4,972.04" fill="none" stroke="#0000ff" stroke-width="2.1" stroke-linejoin="round"/><rect x="199.1" y="1426.46" width="12.8" height="12.8" fill="#fff" stroke="#0000ff" stroke-width="1.6"/><rect x="346.28" y="1383.07" width="12.8" height="12.8" fill="#fff" stroke="#0000ff" stroke-width="1.6"/><rect x="493.46" y="1331.91" width="12.8" height="12.8" fill="#fff" stroke="#0000ff" stroke-width="1.6"/><rect x="640.64" y="1240.25" width="12.8" height="12.8" fill="#fff" stroke="#0000ff" stroke-width="1.6"/><rect x="787.82" y="1112.78" width="12.8" height="12.8" fill="#fff" stroke="#0000ff" stroke-width="1.6"/><rect x="935" y="965.64" width="12.8" height="12.8" fill="#fff" stroke="#0000ff" stroke-width="1.6"/><line x1="195" y1="1446.81" x2="216" y2="1446.81" stroke="#000000" stroke-width="2.2"/><line x1="195" y1="1458.81" x2="216" y2="1458.81" stroke="#000000" stroke-width="2.2"/><line x1="342.18" y1="1374.19" x2="363.18" y2="1374.19" stroke="#000000" stroke-width="2.2"/><line x1="342.18" y1="1386.79" x2="363.18" y2="1386.79" stroke="#000000" stroke-width="2.2"/><line x1="489.36" y1="1301.68" x2="510.36" y2="1301.68" stroke="#000000" stroke-width="2.2"/><line x1="489.36" y1="1314.88" x2="510.36" y2="1314.88" stroke="#000000" stroke-width="2.2"/><line x1="636.54" y1="1198.72" x2="657.54" y2="1198.72" stroke="#000000" stroke-width="2.2"/><line x1="636.54" y1="1213.12" x2="657.54" y2="1213.12" stroke="#000000" stroke-width="2.2"/><line x1="794.22" y1="1074.32" x2="794.22" y2="1076.82" stroke="#000000" stroke-width="2"/><line x1="794.22" y1="1092.82" x2="794.22" y2="1095.32" stroke="#000000" stroke-width="2"/><line x1="783.72" y1="1074.32" x2="804.72" y2="1074.32" stroke="#000000" stroke-width="2.2"/><line x1="783.72" y1="1095.32" x2="804.72" y2="1095.32" stroke="#000000" stroke-width="2.2"/><line x1="941.4" y1="898.01" x2="941.4" y2="903.91" stroke="#000000" stroke-width="2"/><line x1="941.4" y1="919.91" x2="941.4" y2="925.81" stroke="#000000" stroke-width="2"/><line x1="930.9" y1="898.01" x2="951.9" y2="898.01" stroke="#000000" stroke-width="2.2"/><line x1="930.9" y1="925.81" x2="951.9" y2="925.81" stroke="#000000" stroke-width="2.2"/><line x1="195" y1="1444.6" x2="216" y2="1444.6" stroke="#000000" stroke-width="2.2"/><line x1="195" y1="1456.6" x2="216" y2="1456.6" stroke="#000000" stroke-width="2.2"/><line x1="352.68" y1="1391.94" x2="352.68" y2="1393.44" stroke="#000000" stroke-width="2"/><line x1="352.68" y1="1409.44" x2="352.68" y2="1410.94" stroke="#000000" stroke-width="2"/><line x1="342.18" y1="1391.94" x2="363.18" y2="1391.94" stroke="#000000" stroke-width="2.2"/><line x1="342.18" y1="1410.94" x2="363.18" y2="1410.94" stroke="#000000" stroke-width="2.2"/><line x1="499.86" y1="1306.3" x2="499.86" y2="1309.7" stroke="#000000" stroke-width="2"/><line x1="499.86" y1="1325.7" x2="499.86" y2="1329.1" stroke="#000000" stroke-width="2"/><line x1="489.36" y1="1306.3" x2="510.36" y2="1306.3" stroke="#000000" stroke-width="2.2"/><line x1="489.36" y1="1329.1" x2="510.36" y2="1329.1" stroke="#000000" stroke-width="2.2"/><line x1="647.04" y1="1206.83" x2="647.04" y2="1209.83" stroke="#000000" stroke-width="2"/><line x1="647.04" y1="1225.83" x2="647.04" y2="1228.83" stroke="#000000" stroke-width="2"/><line x1="636.54" y1="1206.83" x2="657.54" y2="1206.83" stroke="#000000" stroke-width="2.2"/><line x1="636.54" y1="1228.83" x2="657.54" y2="1228.83" stroke="#000000" stroke-width="2.2"/><line x1="794.22" y1="1074.93" x2="794.22" y2="1077.93" stroke="#000000" stroke-width="2"/><line x1="794.22" y1="1093.93" x2="794.22" y2="1096.93" stroke="#000000" stroke-width="2"/><line x1="783.72" y1="1074.93" x2="804.72" y2="1074.93" stroke="#000000" stroke-width="2.2"/><line x1="783.72" y1="1096.93" x2="804.72" y2="1096.93" stroke="#000000" stroke-width="2.2"/><line x1="941.4" y1="929.38" x2="941.4" y2="935.78" stroke="#000000" stroke-width="2"/><line x1="941.4" y1="951.78" x2="941.4" y2="958.18" stroke="#000000" stroke-width="2"/><line x1="930.9" y1="929.38" x2="951.9" y2="929.38" stroke="#000000" stroke-width="2.2"/><line x1="930.9" y1="958.18" x2="951.9" y2="958.18" stroke="#000000" stroke-width="2.2"/><line x1="195" y1="1417.08" x2="216" y2="1417.08" stroke="#0000ff" stroke-width="2.2"/><line x1="195" y1="1426.48" x2="216" y2="1426.48" stroke="#0000ff" stroke-width="2.2"/><line x1="342.18" y1="1351.53" x2="363.18" y2="1351.53" stroke="#0000ff" stroke-width="2.2"/><line x1="342.18" y1="1365.33" x2="363.18" y2="1365.33" stroke="#0000ff" stroke-width="2.2"/><line x1="489.36" y1="1283.89" x2="510.36" y2="1283.89" stroke="#0000ff" stroke-width="2.2"/><line x1="489.36" y1="1295.09" x2="510.36" y2="1295.09" stroke="#0000ff" stroke-width="2.2"/><line x1="647.04" y1="1170.8" x2="647.04" y2="1172" stroke="#0000ff" stroke-width="2"/><line x1="647.04" y1="1186.4" x2="647.04" y2="1187.6" stroke="#0000ff" stroke-width="2"/><line x1="636.54" y1="1170.8" x2="657.54" y2="1170.8" stroke="#0000ff" stroke-width="2.2"/><line x1="636.54" y1="1187.6" x2="657.54" y2="1187.6" stroke="#0000ff" stroke-width="2.2"/><line x1="794.22" y1="1025.61" x2="794.22" y2="1029.41" stroke="#0000ff" stroke-width="2"/><line x1="794.22" y1="1043.81" x2="794.22" y2="1047.61" stroke="#0000ff" stroke-width="2"/><line x1="783.72" y1="1025.61" x2="804.72" y2="1025.61" stroke="#0000ff" stroke-width="2.2"/><line x1="783.72" y1="1047.61" x2="804.72" y2="1047.61" stroke="#0000ff" stroke-width="2.2"/><line x1="941.4" y1="838.28" x2="941.4" y2="847.08" stroke="#0000ff" stroke-width="2"/><line x1="941.4" y1="861.48" x2="941.4" y2="870.28" stroke="#0000ff" stroke-width="2"/><line x1="930.9" y1="838.28" x2="951.9" y2="838.28" stroke="#0000ff" stroke-width="2.2"/><line x1="930.9" y1="870.28" x2="951.9" y2="870.28" stroke="#0000ff" stroke-width="2.2"/><line x1="195" y1="1427.36" x2="216" y2="1427.36" stroke="#0000ff" stroke-width="2.2"/><line x1="195" y1="1438.36" x2="216" y2="1438.36" stroke="#0000ff" stroke-width="2.2"/><line x1="352.68" y1="1381.97" x2="352.68" y2="1382.27" stroke="#0000ff" stroke-width="2"/><line x1="352.68" y1="1396.67" x2="352.68" y2="1396.97" stroke="#0000ff" stroke-width="2"/><line x1="342.18" y1="1381.97" x2="363.18" y2="1381.97" stroke="#0000ff" stroke-width="2.2"/><line x1="342.18" y1="1396.97" x2="363.18" y2="1396.97" stroke="#0000ff" stroke-width="2.2"/><line x1="499.86" y1="1329.91" x2="499.86" y2="1331.11" stroke="#0000ff" stroke-width="2"/><line x1="499.86" y1="1345.51" x2="499.86" y2="1346.71" stroke="#0000ff" stroke-width="2"/><line x1="489.36" y1="1329.91" x2="510.36" y2="1329.91" stroke="#0000ff" stroke-width="2.2"/><line x1="489.36" y1="1346.71" x2="510.36" y2="1346.71" stroke="#0000ff" stroke-width="2.2"/><line x1="647.04" y1="1235.85" x2="647.04" y2="1239.45" stroke="#0000ff" stroke-width="2"/><line x1="647.04" y1="1253.85" x2="647.04" y2="1257.45" stroke="#0000ff" stroke-width="2"/><line x1="636.54" y1="1235.85" x2="657.54" y2="1235.85" stroke="#0000ff" stroke-width="2.2"/><line x1="636.54" y1="1257.45" x2="657.54" y2="1257.45" stroke="#0000ff" stroke-width="2.2"/><line x1="794.22" y1="1107.98" x2="794.22" y2="1111.98" stroke="#0000ff" stroke-width="2"/><line x1="794.22" y1="1126.38" x2="794.22" y2="1130.38" stroke="#0000ff" stroke-width="2"/><line x1="783.72" y1="1107.98" x2="804.72" y2="1107.98" stroke="#0000ff" stroke-width="2.2"/><line x1="783.72" y1="1130.38" x2="804.72" y2="1130.38" stroke="#0000ff" stroke-width="2.2"/><line x1="941.4" y1="958.44" x2="941.4" y2="964.84" stroke="#0000ff" stroke-width="2"/><line x1="941.4" y1="979.24" x2="941.4" y2="985.64" stroke="#0000ff" stroke-width="2"/><line x1="930.9" y1="958.44" x2="951.9" y2="958.44" stroke="#0000ff" stroke-width="2.2"/><line x1="930.9" y1="985.64" x2="951.9" y2="985.64" stroke="#0000ff" stroke-width="2.2"/><rect x="132.2" y="831.4" width="838.7" height="682.4" fill="none" stroke="#000" stroke-width="2.7"/><line x1="119.2" y1="1457.8" x2="145.2" y2="1457.8" stroke="#000" stroke-width="2.7"/><line x1="119.2" y1="1346.96" x2="145.2" y2="1346.96" stroke="#000" stroke-width="2.7"/><line x1="119.2" y1="1236.12" x2="145.2" y2="1236.12" stroke="#000" stroke-width="2.7"/><line x1="119.2" y1="1125.28" x2="145.2" y2="1125.28" stroke="#000" stroke-width="2.7"/><line x1="119.2" y1="1014.44" x2="145.2" y2="1014.44" stroke="#000" stroke-width="2.7"/><line x1="119.2" y1="903.6" x2="145.2" y2="903.6" stroke="#000" stroke-width="2.7"/><line x1="125.9" y1="1513.22" x2="132.2" y2="1513.22" stroke="#000" stroke-width="2.7"/><line x1="125.9" y1="1402.38" x2="132.2" y2="1402.38" stroke="#000" stroke-width="2.7"/><line x1="125.9" y1="1291.54" x2="132.2" y2="1291.54" stroke="#000" stroke-width="2.7"/><line x1="125.9" y1="1180.7" x2="132.2" y2="1180.7" stroke="#000" stroke-width="2.7"/><line x1="125.9" y1="1069.86" x2="132.2" y2="1069.86" stroke="#000" stroke-width="2.7"/><line x1="125.9" y1="959.02" x2="132.2" y2="959.02" stroke="#000" stroke-width="2.7"/><line x1="125.9" y1="848.18" x2="132.2" y2="848.18" stroke="#000" stroke-width="2.7"/><line x1="205.5" y1="1500.8" x2="205.5" y2="1526.8" stroke="#000" stroke-width="2.7"/><line x1="352.68" y1="1500.8" x2="352.68" y2="1526.8" stroke="#000" stroke-width="2.7"/><line x1="499.86" y1="1500.8" x2="499.86" y2="1526.8" stroke="#000" stroke-width="2.7"/><line x1="647.04" y1="1500.8" x2="647.04" y2="1526.8" stroke="#000" stroke-width="2.7"/><line x1="794.22" y1="1500.8" x2="794.22" y2="1526.8" stroke="#000" stroke-width="2.7"/><line x1="941.4" y1="1500.8" x2="941.4" y2="1526.8" stroke="#000" stroke-width="2.7"/><line x1="131.91" y1="1513.8" x2="131.91" y2="1520.3" stroke="#000" stroke-width="2.7"/><line x1="279.09" y1="1513.8" x2="279.09" y2="1520.3" stroke="#000" stroke-width="2.7"/><line x1="426.27" y1="1513.8" x2="426.27" y2="1520.3" stroke="#000" stroke-width="2.7"/><line x1="573.45" y1="1513.8" x2="573.45" y2="1520.3" stroke="#000" stroke-width="2.7"/><line x1="720.63" y1="1513.8" x2="720.63" y2="1520.3" stroke="#000" stroke-width="2.7"/><line x1="867.81" y1="1513.8" x2="867.81" y2="1520.3" stroke="#000" stroke-width="2.7"/><text x="108.2" y="1469.5" font-size="36" text-anchor="end">40</text><text x="108.2" y="1358.66" font-size="36" text-anchor="end">60</text><text x="108.2" y="1247.82" font-size="36" text-anchor="end">80</text><text x="108.2" y="1136.98" font-size="36" text-anchor="end">100</text><text x="108.2" y="1026.14" font-size="36" text-anchor="end">120</text><text x="108.2" y="915.3" font-size="36" text-anchor="end">140</text><text x="205.5" y="1564.4" font-size="36" text-anchor="middle">30</text><text x="352.68" y="1564.4" font-size="36" text-anchor="middle">40</text><text x="499.86" y="1564.4" font-size="36" text-anchor="middle">50</text><text x="647.04" y="1564.4" font-size="36" text-anchor="middle">60</text><text x="794.22" y="1564.4" font-size="36" text-anchor="middle">70</text><text x="941.4" y="1564.4" font-size="36" text-anchor="middle">80</text><text transform="translate(37.6,1174.05) rotate(-90) scale(0.977,1)" font-size="36.5" font-weight="bold" text-anchor="middle">Conductivity (mS.cm<tspan font-size="25" dy="-14">-1</tspan><tspan dy="14">)</tspan></text><text transform="translate(550.8,1627) scale(0.968,1)" font-size="36.5" font-weight="bold" text-anchor="middle">Temperature (<tspan font-weight="normal">°</tspan>C)</text><text x="11.5" y="845.5" font-size="36.5">c)</text><line x1="208" y1="878.1" x2="267.9" y2="878.1" stroke="#000000" stroke-width="2.2"/><polygon points="237.2,869.3 239.27,875.25 245.57,875.38 240.55,879.19 242.37,885.22 237.2,881.62 232.03,885.22 233.85,879.19 228.83,875.38 235.13,875.25" fill="#fff" stroke="#000000" stroke-width="1.6" stroke-linejoin="round"/><text transform="translate(275.3,887.4) scale(0.9780,1)" font-size="25.8" font-weight="bold" font-style="italic">NFPP-TMA-1</text><line x1="208" y1="919.4" x2="267.9" y2="919.4" stroke="#000000" stroke-width="2.2"/><polygon points="237.2,909.8 239.46,916.29 246.33,916.43 240.85,920.59 242.84,927.17 237.2,923.24 231.56,927.17 233.55,920.59 228.07,916.43 234.94,916.29" fill="#000000"/><text transform="translate(275.3,928.7) scale(0.9780,1)" font-size="25.8" font-weight="bold" font-style="italic">NFPP-Im-1</text><line x1="208" y1="960.5" x2="267.9" y2="960.5" stroke="#0000ff" stroke-width="2.2"/><rect x="230.8" y="954.1" width="12.8" height="12.8" fill="#fff" stroke="#0000ff" stroke-width="1.6"/><text transform="translate(275.3,969.8) scale(0.9780,1)" font-size="25.8" font-weight="bold" font-style="italic">NFPP-TMA-2</text><line x1="400.6" y1="919.4" x2="460.9" y2="919.4" stroke="#0000ff" stroke-width="2.2"/><rect x="424.4" y="912.2" width="14.4" height="14.4" fill="#0000ff"/><text transform="translate(469,928.7) scale(0.9780,1)" font-size="25.8" font-weight="bold" font-style="italic">NFPP-Im-2</text>
<polygon points="1914.98,1399.27 1917.09,1405.36 1923.54,1405.49 1918.4,1409.38 1920.27,1415.55 1914.98,1411.87 1909.69,1415.55 1911.55,1409.38 1906.42,1405.49 1912.86,1405.36" fill="#000000"/><polygon points="1743.35,1279.39 1745.47,1285.48 1751.91,1285.61 1746.77,1289.5 1748.64,1295.67 1743.35,1291.99 1738.06,1295.67 1739.93,1289.5 1734.79,1285.61 1741.23,1285.48" fill="#000000"/><polygon points="1582.34,1185.74 1584.46,1191.83 1590.9,1191.96 1585.77,1195.85 1587.63,1202.02 1582.34,1198.34 1577.05,1202.02 1578.92,1195.85 1573.78,1191.96 1580.23,1191.83" fill="#000000"/><polygon points="1431,1080.31 1433.12,1086.4 1439.56,1086.53 1434.42,1090.42 1436.29,1096.59 1431,1092.91 1425.71,1096.59 1427.58,1090.42 1422.44,1086.53 1428.88,1086.4" fill="#000000"/><polygon points="1288.48,981.74 1290.6,987.83 1297.04,987.96 1291.9,991.85 1293.77,998.02 1288.48,994.34 1283.19,998.02 1285.06,991.85 1279.92,987.96 1286.36,987.83" fill="#000000"/><polygon points="1154.03,871.25 1156.15,877.33 1162.59,877.47 1157.46,881.36 1159.32,887.53 1154.03,883.85 1148.74,887.53 1150.61,881.36 1145.47,877.47 1151.92,877.33" fill="#000000"/><polygon points="1914.98,1395.11 1917.08,1401.16 1923.49,1401.29 1918.38,1405.16 1920.24,1411.3 1914.98,1407.64 1909.72,1411.3 1911.57,1405.16 1906.47,1401.29 1912.87,1401.16" fill="#fff" stroke="#000000" stroke-width="1.1" stroke-linejoin="round"/><polygon points="1743.35,1310.89 1745.45,1316.94 1751.86,1317.07 1746.75,1320.94 1748.61,1327.08 1743.35,1323.42 1738.09,1327.08 1739.94,1320.94 1734.84,1317.07 1741.24,1316.94" fill="#fff" stroke="#000000" stroke-width="1.1" stroke-linejoin="round"/><polygon points="1582.34,1196.92 1584.45,1202.97 1590.85,1203.1 1585.75,1206.97 1587.6,1213.11 1582.34,1209.45 1577.08,1213.11 1578.94,1206.97 1573.83,1203.1 1580.24,1202.97" fill="#fff" stroke="#000000" stroke-width="1.1" stroke-linejoin="round"/><polygon points="1431,1091.39 1433.11,1097.45 1439.51,1097.58 1434.41,1101.45 1436.26,1107.58 1431,1103.92 1425.74,1107.58 1427.6,1101.45 1422.49,1097.58 1428.9,1097.45" fill="#fff" stroke="#000000" stroke-width="1.1" stroke-linejoin="round"/><polygon points="1288.48,982.6 1290.58,988.65 1296.99,988.78 1291.89,992.65 1293.74,998.79 1288.48,995.13 1283.22,998.79 1285.08,992.65 1279.97,988.78 1286.38,988.65" fill="#fff" stroke="#000000" stroke-width="1.1" stroke-linejoin="round"/><polygon points="1154.03,889.65 1156.14,895.71 1162.54,895.84 1157.44,899.71 1159.29,905.84 1154.03,902.18 1148.77,905.84 1150.63,899.71 1145.52,895.84 1151.93,895.71" fill="#fff" stroke="#000000" stroke-width="1.1" stroke-linejoin="round"/><rect x="1908.18" y="1345.92" width="13.6" height="13.6" fill="#0000ff"/><rect x="1736.55" y="1250.78" width="13.6" height="13.6" fill="#0000ff"/><rect x="1575.54" y="1166.56" width="13.6" height="13.6" fill="#0000ff"/><rect x="1424.2" y="1058.76" width="13.6" height="13.6" fill="#0000ff"/><rect x="1281.68" y="950.19" width="13.6" height="13.6" fill="#0000ff"/><rect x="1147.23" y="842.1" width="13.6" height="13.6" fill="#0000ff"/><rect x="1908.83" y="1365.6" width="12.3" height="12.3" fill="#fff" stroke="#1a1ab0" stroke-width="1.3"/><rect x="1737.2" y="1295.44" width="12.3" height="12.3" fill="#fff" stroke="#1a1ab0" stroke-width="1.3"/><rect x="1576.19" y="1225.12" width="12.3" height="12.3" fill="#fff" stroke="#1a1ab0" stroke-width="1.3"/><rect x="1424.85" y="1122.1" width="12.3" height="12.3" fill="#fff" stroke="#1a1ab0" stroke-width="1.3"/><rect x="1282.33" y="1010.36" width="12.3" height="12.3" fill="#fff" stroke="#1a1ab0" stroke-width="1.3"/><rect x="1147.88" y="909.41" width="12.3" height="12.3" fill="#fff" stroke="#1a1ab0" stroke-width="1.3"/><line x1="1154.1" y1="868" x2="1915" y2="1371.9" stroke="#0000cc" stroke-width="2.1"/><line x1="1154.1" y1="940" x2="1915" y2="1399.5" stroke="#0000cc" stroke-width="2.1"/><line x1="1154.1" y1="906.6" x2="1915" y2="1423.1" stroke="#000000" stroke-width="2.1"/><line x1="1154.1" y1="893.5" x2="1915" y2="1412.5" stroke="#000000" stroke-width="2.1" stroke-dasharray="10.7 12.2"/><rect x="1103.5" y="831.6" width="829.8" height="668.6" fill="none" stroke="#000" stroke-width="2.6"/><line x1="1090.2" y1="1456.38" x2="1115.7" y2="1456.38" stroke="#000" stroke-width="2.5"/><line x1="1090.2" y1="1326.51" x2="1115.7" y2="1326.51" stroke="#000" stroke-width="2.5"/><line x1="1090.2" y1="1196.64" x2="1115.7" y2="1196.64" stroke="#000" stroke-width="2.5"/><line x1="1090.2" y1="1066.77" x2="1115.7" y2="1066.77" stroke="#000" stroke-width="2.5"/><line x1="1090.2" y1="936.9" x2="1115.7" y2="936.9" stroke="#000" stroke-width="2.5"/><line x1="1097.1" y1="1391.44" x2="1103.5" y2="1391.44" stroke="#000" stroke-width="2.5"/><line x1="1097.1" y1="1261.57" x2="1103.5" y2="1261.57" stroke="#000" stroke-width="2.5"/><line x1="1097.1" y1="1131.7" x2="1103.5" y2="1131.7" stroke="#000" stroke-width="2.5"/><line x1="1097.1" y1="1001.83" x2="1103.5" y2="1001.83" stroke="#000" stroke-width="2.5"/><line x1="1097.1" y1="871.96" x2="1103.5" y2="871.96" stroke="#000" stroke-width="2.5"/><line x1="1103.5" y1="1487.6" x2="1103.5" y2="1512.8" stroke="#000" stroke-width="2.5"/><line x1="1266.22" y1="1487.6" x2="1266.22" y2="1512.8" stroke="#000" stroke-width="2.5"/><line x1="1428.94" y1="1487.6" x2="1428.94" y2="1512.8" stroke="#000" stroke-width="2.5"/><line x1="1591.66" y1="1487.6" x2="1591.66" y2="1512.8" stroke="#000" stroke-width="2.5"/><line x1="1754.38" y1="1487.6" x2="1754.38" y2="1512.8" stroke="#000" stroke-width="2.5"/><line x1="1917.1" y1="1487.6" x2="1917.1" y2="1512.8" stroke="#000" stroke-width="2.5"/><line x1="1184.86" y1="1500.2" x2="1184.86" y2="1505.8" stroke="#000" stroke-width="2.5"/><line x1="1347.58" y1="1500.2" x2="1347.58" y2="1505.8" stroke="#000" stroke-width="2.5"/><line x1="1510.3" y1="1500.2" x2="1510.3" y2="1505.8" stroke="#000" stroke-width="2.5"/><line x1="1673.02" y1="1500.2" x2="1673.02" y2="1505.8" stroke="#000" stroke-width="2.5"/><line x1="1835.74" y1="1500.2" x2="1835.74" y2="1505.8" stroke="#000" stroke-width="2.5"/><text x="1079.5" y="1466.78" font-size="35.2" text-anchor="end">3.6</text><text x="1079.5" y="1336.91" font-size="35.2" text-anchor="end">3.9</text><text x="1079.5" y="1207.04" font-size="35.2" text-anchor="end">4.2</text><text x="1079.5" y="1077.17" font-size="35.2" text-anchor="end">4.5</text><text x="1079.5" y="947.3" font-size="35.2" text-anchor="end">4.8</text><text x="1103.5" y="1549.7" font-size="35" text-anchor="middle">2.8</text><text x="1266.22" y="1549.7" font-size="35" text-anchor="middle">2.9</text><text x="1428.94" y="1549.7" font-size="35" text-anchor="middle">3.0</text><text x="1591.66" y="1549.7" font-size="35" text-anchor="middle">3.1</text><text x="1754.38" y="1549.7" font-size="35" text-anchor="middle">3.2</text><text x="1917.1" y="1549.7" font-size="35" text-anchor="middle">3.3</text><text transform="translate(1022.1,1164.6) rotate(-90) scale(1.028,1)" font-size="34.5" font-weight="bold" text-anchor="middle">ln(Conductivity) (mS.cm<tspan font-size="23" dy="-13">-1</tspan><tspan dy="13">)</tspan></text><text transform="translate(1518.4,1622) scale(1.02,1)" font-size="34" font-weight="bold" text-anchor="middle">1000/T (K<tspan dy="-15">-1</tspan><tspan dy="15">)</tspan></text><text x="997.5" y="858.6" font-size="35.5">d)</text><polygon points="1559.3,875.65 1561.4,881.7 1567.81,881.83 1562.7,885.71 1564.56,891.84 1559.3,888.18 1554.04,891.84 1555.9,885.71 1550.79,881.83 1557.2,881.7" fill="#fff" stroke="#000000" stroke-width="1.1" stroke-linejoin="round"/><text x="1594.9" y="893.1" font-size="24.5" font-weight="bold" font-style="italic">NFPP-TMA-1</text><polygon points="1559.3,915.4 1561.42,921.49 1567.86,921.62 1562.72,925.51 1564.59,931.68 1559.3,928 1554.01,931.68 1555.88,925.51 1550.74,921.62 1557.18,921.49" fill="#000000"/><text x="1594.9" y="932.9" font-size="24.5" font-weight="bold" font-style="italic">NFPP-Im-1</text><rect x="1552.75" y="957.05" width="13.1" height="13.1" fill="#fff" stroke="#1a1ab0" stroke-width="1.3"/><text x="1594.9" y="972.1" font-size="24.5" font-weight="bold" font-style="italic">NFPP-TMA-2</text><rect x="1739.2" y="917.3" width="14.2" height="14.2" fill="#0000ff"/><text x="1782.2" y="932.9" font-size="24.5" font-weight="bold" font-style="italic">NFPP-Im-2</text>
</svg></body></html>
